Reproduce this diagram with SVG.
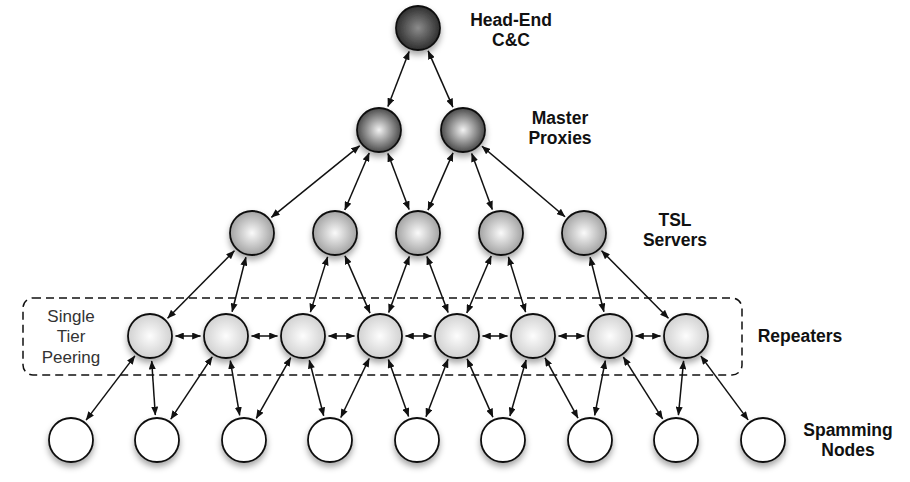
<svg xmlns="http://www.w3.org/2000/svg" width="910" height="482" viewBox="0 0 910 482">
  <defs>
    <radialGradient id="gHead" cx="0.5" cy="0.5" r="0.55">
      <stop offset="0" stop-color="#8c8c8c"/>
      <stop offset="1" stop-color="#262626"/>
    </radialGradient>
    <radialGradient id="gMaster" cx="0.5" cy="0.5" r="0.55">
      <stop offset="0" stop-color="#f2f2f2"/>
      <stop offset="1" stop-color="#3a3a3a"/>
    </radialGradient>
    <radialGradient id="gTsl" cx="0.5" cy="0.5" r="0.55">
      <stop offset="0" stop-color="#fafafa"/>
      <stop offset="1" stop-color="#9a9a9a"/>
    </radialGradient>
    <radialGradient id="gRep" cx="0.5" cy="0.5" r="0.55">
      <stop offset="0" stop-color="#fdfdfd"/>
      <stop offset="1" stop-color="#cdcdcd"/>
    </radialGradient>
    <filter id="shadow" x="-40%" y="-40%" width="180%" height="200%">
      <feDropShadow dx="0" dy="4" stdDeviation="3" flood-color="#000" flood-opacity="0.35"/>
    </filter>
    <marker id="ah" viewBox="0 0 10 8" refX="9.5" refY="4" markerWidth="9" markerHeight="7" markerUnits="userSpaceOnUse" orient="auto-start-reverse">
      <path d="M0,0 L10,4 L0,8 z" fill="#111"/>
    </marker>
    <style>
      .n { stroke: #111; stroke-width: 1.8; filter: url(#shadow); }
      .head { fill: url(#gHead); }
      .master { fill: url(#gMaster); }
      .tsl { fill: url(#gTsl); }
      .rep { fill: url(#gRep); }
      .spam { fill: #ffffff; }
      .c line { stroke: #111; stroke-width: 1.5; marker-start: url(#ah); marker-end: url(#ah); }
      .lbl { font-family: "Liberation Sans", Arial, sans-serif; font-size: 17.5px; font-weight: bold; fill: #111; text-anchor: middle; }
      .peer { font-family: "Liberation Sans", Arial, sans-serif; font-size: 17px; fill: #333; text-anchor: middle; }
    </style>
  </defs>
  <rect width="910" height="482" fill="#ffffff"/>

  <rect id="peering-box" x="23" y="298" width="719" height="77" rx="10" ry="10" fill="none" stroke="#111" stroke-width="1.5" stroke-dasharray="8,5"/>

  <g id="connectors" class="c">
    <line x1="409.1" y1="51.4" x2="387.9" y2="106.6"/>
    <line x1="428.1" y1="50.9" x2="452.9" y2="107.1"/>

    <line x1="359.6" y1="145.8" x2="271.4" y2="217.3"/>
    <line x1="369.2" y1="153" x2="344.8" y2="210"/>
    <line x1="387.9" y1="153.4" x2="409.1" y2="209.6"/>
    <line x1="453" y1="152.9" x2="428" y2="210.1"/>
    <line x1="471.7" y1="153.5" x2="492.3" y2="209.5"/>
    <line x1="482" y1="146.2" x2="565" y2="216.8"/>

    <line x1="234.4" y1="250.8" x2="167.6" y2="318.2"/>
    <line x1="245.9" y1="257.2" x2="232.1" y2="311.8"/>
    <line x1="327.6" y1="256.9" x2="310.4" y2="312.1"/>
    <line x1="345" y1="255.9" x2="370" y2="313.1"/>
    <line x1="409.3" y1="256.5" x2="388.7" y2="312.5"/>
    <line x1="426.9" y1="256.4" x2="448.1" y2="312.6"/>
    <line x1="491.2" y1="256" x2="466.8" y2="313"/>
    <line x1="508.4" y1="256.9" x2="525.6" y2="312.1"/>
    <line x1="590.1" y1="257.2" x2="603.9" y2="311.8"/>
    <line x1="601.6" y1="250.8" x2="668.4" y2="318.2"/>

    <line x1="175.5" y1="336" x2="200.5" y2="336"/>
    <line x1="251.5" y1="336" x2="277.5" y2="336"/>
    <line x1="328.5" y1="336" x2="354.5" y2="336"/>
    <line x1="405.5" y1="336" x2="431.5" y2="336"/>
    <line x1="482.5" y1="336" x2="507.5" y2="336"/>
    <line x1="558.5" y1="336" x2="584.5" y2="336"/>
    <line x1="635.5" y1="336" x2="660.5" y2="336"/>

    <line x1="134.9" y1="355.9" x2="86.1" y2="420.1"/>
    <line x1="151.7" y1="361" x2="155.3" y2="415"/>
    <line x1="212.2" y1="356.8" x2="170.8" y2="419.2"/>
    <line x1="230.3" y1="360.6" x2="239.7" y2="415.4"/>
    <line x1="290.7" y1="357.7" x2="256.3" y2="418.3"/>
    <line x1="309.3" y1="360.2" x2="323.7" y2="415.8"/>
    <line x1="369.2" y1="358.5" x2="340.8" y2="417.5"/>
    <line x1="388.4" y1="359.6" x2="408.6" y2="416.4"/>
    <line x1="448" y1="359.3" x2="426" y2="416.7"/>
    <line x1="467.1" y1="358.9" x2="492.9" y2="417.1"/>
    <line x1="526.1" y1="360" x2="509.9" y2="416"/>
    <line x1="545" y1="357.9" x2="578" y2="418.1"/>
    <line x1="605.3" y1="360.6" x2="594.7" y2="415.4"/>
    <line x1="623.4" y1="357.1" x2="662.6" y2="418.9"/>
    <line x1="683.6" y1="360.9" x2="678.4" y2="415.1"/>
    <line x1="700.9" y1="356.1" x2="748.1" y2="419.9"/>
  </g>

  <g id="head-end"><circle class="n head" cx="418" cy="28" r="22"/></g>
  <g id="master-1"><circle class="n master" cx="379" cy="130" r="22"/></g>
  <g id="master-2"><circle class="n master" cx="463" cy="130" r="22"/></g>

  <g id="tsl-1"><circle class="n tsl" cx="252" cy="233" r="22"/></g>
  <g id="tsl-2"><circle class="n tsl" cx="335" cy="233" r="22"/></g>
  <g id="tsl-3"><circle class="n tsl" cx="418" cy="233" r="22"/></g>
  <g id="tsl-4"><circle class="n tsl" cx="501" cy="233" r="22"/></g>
  <g id="tsl-5"><circle class="n tsl" cx="584" cy="233" r="22"/></g>

  <g id="rep-1"><circle class="n rep" cx="150" cy="336" r="22"/></g>
  <g id="rep-2"><circle class="n rep" cx="226" cy="336" r="22"/></g>
  <g id="rep-3"><circle class="n rep" cx="303" cy="336" r="22"/></g>
  <g id="rep-4"><circle class="n rep" cx="380" cy="336" r="22"/></g>
  <g id="rep-5"><circle class="n rep" cx="457" cy="336" r="22"/></g>
  <g id="rep-6"><circle class="n rep" cx="533" cy="336" r="22"/></g>
  <g id="rep-7"><circle class="n rep" cx="610" cy="336" r="22"/></g>
  <g id="rep-8"><circle class="n rep" cx="686" cy="336" r="22"/></g>

  <g id="spam-1"><circle class="n spam" cx="71" cy="440" r="22"/></g>
  <g id="spam-2"><circle class="n spam" cx="157" cy="440" r="22"/></g>
  <g id="spam-3"><circle class="n spam" cx="244" cy="440" r="22"/></g>
  <g id="spam-4"><circle class="n spam" cx="330" cy="440" r="22"/></g>
  <g id="spam-5"><circle class="n spam" cx="417" cy="440" r="22"/></g>
  <g id="spam-6"><circle class="n spam" cx="503" cy="440" r="22"/></g>
  <g id="spam-7"><circle class="n spam" cx="590" cy="440" r="22"/></g>
  <g id="spam-8"><circle class="n spam" cx="676" cy="440" r="22"/></g>
  <g id="spam-9"><circle class="n spam" cx="763" cy="440" r="22"/></g>

  <g id="labels">
    <text class="lbl" x="511" y="26">Head-End</text>
    <text class="lbl" x="511" y="46">C&amp;C</text>
    <text class="lbl" x="560" y="124">Master</text>
    <text class="lbl" x="560" y="144">Proxies</text>
    <text class="lbl" x="675" y="226">TSL</text>
    <text class="lbl" x="675" y="246">Servers</text>
    <text class="lbl" x="800" y="342">Repeaters</text>
    <text class="lbl" x="848" y="436">Spamming</text>
    <text class="lbl" x="848" y="456">Nodes</text>
    <text class="peer" x="71" y="322">Single</text>
    <text class="peer" x="71" y="342">Tier</text>
    <text class="peer" x="71" y="363">Peering</text>
  </g>
</svg>
